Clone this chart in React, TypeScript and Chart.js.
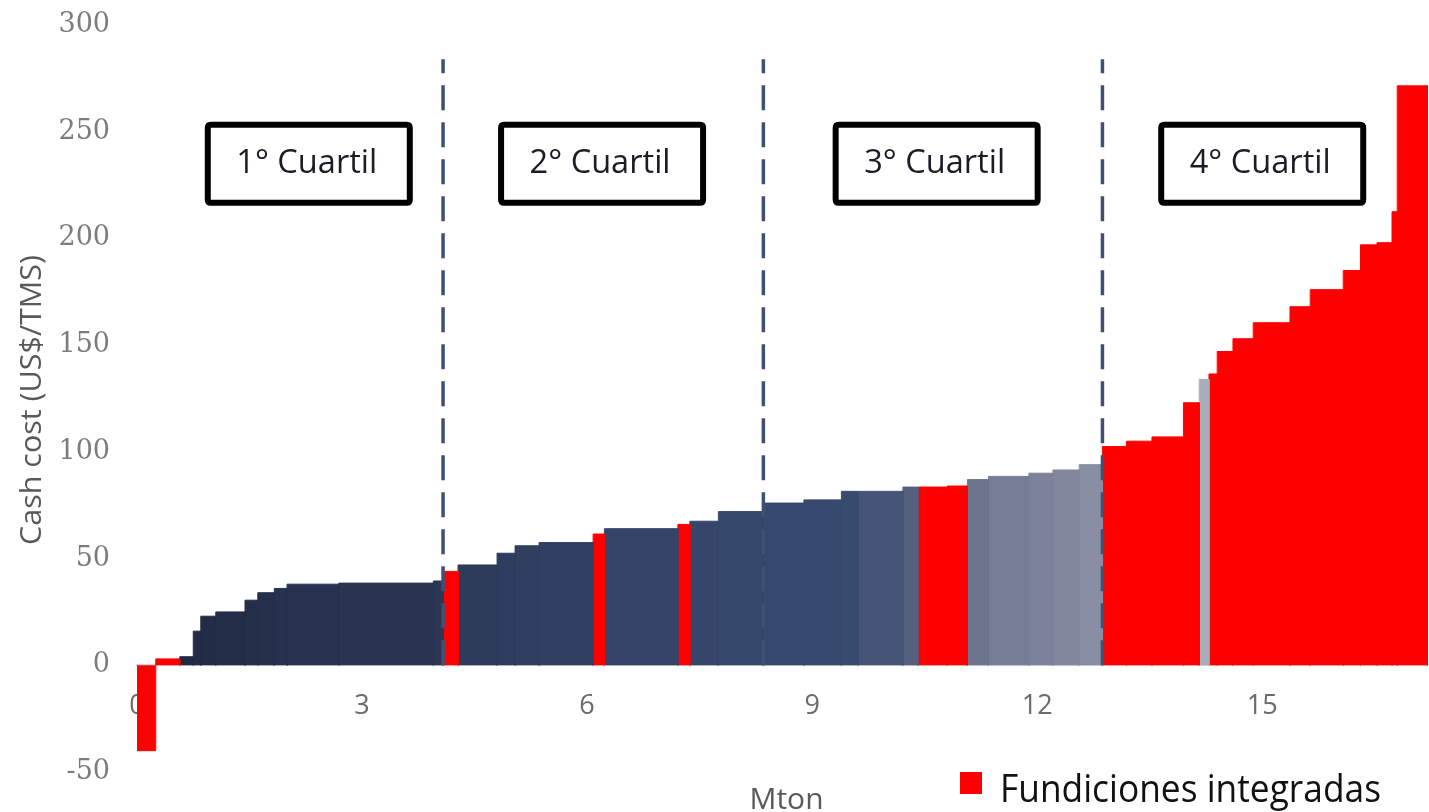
import { useEffect, useRef } from "react";
import { Chart, registerables } from "chart.js";

Chart.register(...registerables);

// ---- data ----
const capacityMton = [
  0.25, 0.32, 0.18, 0.1, 0.2, 0.39, 0.17, 0.22, 0.17, 0.69, 1.26, 0.13,
  0.2, 0.52, 0.24, 0.32, 0.72,
  0.15, 0.98, 0.16, 0.38, 0.6,
  0.54, 0.5, 0.22, 0.6, 0.2,
  0.39, 0.27, 0.28, 0.54, 0.32, 0.35, 0.31,
  0.32, 0.34, 0.42, 0.21,
  0.13, 0.11, 0.21, 0.27,
  0.49, 0.27, 0.44, 0.23, 0.22, 0.2, 0.07, 0.41,
];
const cashCost = [
  -40, 3, 4, 16, 23, 25, 30.5, 34, 36, 38, 38.5, 39.5,
  44, 47, 52.5, 56, 57.5,
  61.5, 64, 66, 67.5, 72,
  76, 77.5, 81.5, 81.5, 83.5,
  83.5, 84, 87, 88.5, 90, 91.5, 94,
  102.5, 105, 107, 123,
  134, 136.5, 147, 153,
  160.5, 168, 176, 185, 197, 198, 212.5, 271.5,
];
const integrated = [
  true, true, false, false, false, false, false, false, false, false, false, false,
  true, false, false, false, false,
  true, false, true, false, false,
  false, false, false, false, false,
  true, true, false, false, false, false, false,
  true, true, true, true,
  false, true, true, true,
  true, true, true, true, true, true, true, true,
];
const quartileBounds = [4.08, 8.35, 12.87];
const quartileLineTop = 284;
const quartileLabels = ["1° Cuartil", "2° Cuartil", "3° Cuartil", "4° Cuartil"];
const quartileLabelX = [2.29, 6.2, 10.66, 15.0];
const quartileLabelY = 235;
const xTickValues = [0, 3, 6, 9, 12, 15];
const yTickValues = [-50, 0, 50, 100, 150, 200, 250, 300];
const legendLabel = "Fundiciones integradas";
const xTitle = "Mton";
const yTitle = "Cash cost (US$/TMS)";

// ---- styles ----
const RED = "#ff0000";
const otherShades = [
  "", "", "#212a43", "#222b45", "#232c46", "#242d48", "#252f4a", "#26304c", "#27324e", "#283350", "#2a3553", "#2b3655",
  "", "#2e3b5b", "#2f3c5d", "#303e5f", "#313f61",
  "", "#334468", "", "#35466a", "#35476b",
  "#36486d", "#37496e", "#384a6e", "#465577", "#56617e",
  "", "", "#6d748e", "#767d96", "#7c8299", "#82879e", "#898ea4",
  "", "", "", "",
  "#a8adb9", "", "", "",
  "", "", "", "", "", "", "", "",
];

function drawFitted(
  ctx: CanvasRenderingContext2D,
  text: string,
  x: number,
  y: number,
  size: number,
  family: string,
  targetWidth: number,
  align: "left" | "center",
  color: string,
  rotate = 0
) {
  ctx.save();
  ctx.font = `${size}px ${family}`;
  const w = ctx.measureText(text).width;
  const sx = targetWidth / w;
  ctx.translate(x, y);
  if (rotate) ctx.rotate(rotate);
  ctx.scale(sx, 1);
  ctx.fillStyle = color;
  ctx.textBaseline = "alphabetic";
  ctx.textAlign = align;
  ctx.fillText(text, 0, 0);
  ctx.restore();
}

const annotationsPlugin = {
  id: "annotations",
  afterDatasetsDraw(chart: any) {
    const { ctx, scales, chartArea } = chart;
    const xs = scales.x;
    const ys = scales.y;
    // quartile boxes
    quartileLabels.forEach((label, i) => {
      const cx = xs.getPixelForValue(quartileLabelX[i]);
      const cy = ys.getPixelForValue(quartileLabelY);
      const w = 202;
      const h = 78;
      ctx.save();
      ctx.beginPath();
      const r = 3;
      const x0 = cx - w / 2;
      const y0 = cy - h / 2;
      ctx.moveTo(x0 + r, y0);
      ctx.lineTo(x0 + w - r, y0);
      ctx.quadraticCurveTo(x0 + w, y0, x0 + w, y0 + r);
      ctx.lineTo(x0 + w, y0 + h - r);
      ctx.quadraticCurveTo(x0 + w, y0 + h, x0 + w - r, y0 + h);
      ctx.lineTo(x0 + r, y0 + h);
      ctx.quadraticCurveTo(x0, y0 + h, x0, y0 + h - r);
      ctx.lineTo(x0, y0 + r);
      ctx.quadraticCurveTo(x0, y0, x0 + r, y0);
      ctx.closePath();
      ctx.fillStyle = "#ffffff";
      ctx.fill();
      ctx.lineWidth = 6;
      ctx.strokeStyle = "#000000";
      ctx.stroke();
      ctx.restore();
      drawFitted(ctx, label, cx - 2, cy + 9, 33, "'Open Sans', sans-serif", 141, "center", "#1c1c28");
    });
    // legend
    ctx.save();
    ctx.fillStyle = RED;
    ctx.fillRect(960, 772, 22, 22);
    ctx.restore();
    drawFitted(ctx, legendLabel, 1000, 802, 39, "'Open Sans', sans-serif", 381, "left", "#111111");
    // axis titles
    const mid = (chartArea.left + chartArea.right) / 2;
    drawFitted(ctx, xTitle, mid + 4, 809, 30, "'Open Sans', sans-serif", 74, "center", "#595959");
    drawFitted(ctx, yTitle, 41, 400, 29, "'Open Sans', sans-serif", 290, "center", "#595959", -Math.PI / 2);
  },
};

export default function App() {
  const canvasRef = useRef<HTMLCanvasElement | null>(null);

  useEffect(() => {
    if (!canvasRef.current) return;
    let start = 0;
    const barSets = capacityMton.map((w, i) => {
      const x0 = start;
      const x1 = start + w;
      start = x1;
      const color = integrated[i] ? RED : otherShades[i];
      return {
        type: "line" as const,
        data: [
          { x: x0, y: 0 },
          { x: x0, y: cashCost[i] },
          { x: x1, y: cashCost[i] },
          { x: x1, y: 0 },
        ],
        fill: "origin",
        backgroundColor: color,
        borderColor: color,
        borderWidth: 1,
        pointRadius: 0,
        tension: 0,
        order: 2,
      };
    });
    const lineSets = quartileBounds.map((b) => ({
      type: "line" as const,
      data: [
        { x: b, y: 0 },
        { x: b, y: quartileLineTop },
      ],
      fill: false,
      borderColor: "#3f5075",
      borderWidth: 3.5,
      borderDash: [25, 12],
      pointRadius: 0,
      order: 0,
    }));

    const chart = new Chart(canvasRef.current, {
      type: "line",
      data: { datasets: [...lineSets, ...barSets] as any },
      options: {
        animation: false,
        responsive: false,
        maintainAspectRatio: false,
        layout: { padding: { top: 25, bottom: 40, left: 0, right: 1 } },
        plugins: {
          legend: { display: false },
          tooltip: { enabled: false },
        },
        scales: {
          x: {
            type: "linear",
            position: { y: 0 } as any,
            min: 0,
            max: 17.21,
            grid: { display: false, drawTicks: false, tickLength: 0 },
            border: { display: true, color: "#d9d9d9", width: 2 },
            afterBuildTicks: (scale: any) => {
              scale.ticks = xTickValues.map((v) => ({ value: v }));
            },
            ticks: {
              padding: 25,
              color: "#6b6b6b",
              font: { family: "'Open Sans', sans-serif", size: 27 },
              maxRotation: 0,
              autoSkip: false,
            },
          },
          y: {
            type: "linear",
            min: -50,
            max: 300,
            grid: { display: false, drawTicks: false, tickLength: 0 },
            border: { display: false },
            afterBuildTicks: (scale: any) => {
              scale.ticks = yTickValues.map((v) => ({ value: v }));
            },
            afterFit: (scale: any) => {
              scale.width = 137;
              scale.paddingTop = 0;
              scale.paddingBottom = 0;
            },
            ticks: {
              padding: 27,
              color: "#7c7c7c",
              font: { family: "'DejaVu Serif', serif", size: 27 },
            },
            title: { display: false },
          },
        },
      },
      plugins: [annotationsPlugin],
    });
    return () => chart.destroy();
  }, []);

  return (
    <div style={{ position: "fixed", left: 0, top: 0, width: 1429, height: 812, background: "#fff" }}>
      <canvas ref={canvasRef} width={1429} height={812} style={{ display: "block" }} />
    </div>
  );
}
